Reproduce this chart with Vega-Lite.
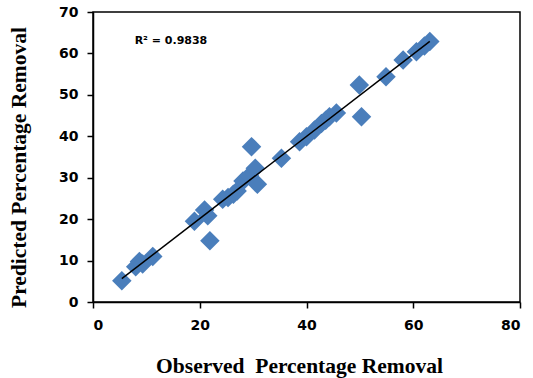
{
  "$schema": "https://vega.github.io/schema/vega-lite/v6.json",
  "autosize": "none",
  "width": 427,
  "height": 290,
  "padding": {"left": 93, "top": 12, "right": 13, "bottom": 76},
  "background": "white",
  "config": {
    "view": {"stroke": "#000", "strokeWidth": 1.5},
    "axis": {
      "grid": false,
      "domainColor": "#000",
      "domainWidth": 1.5,
      "tickColor": "#000",
      "tickWidth": 1.5,
      "tickSize": 6,
      "labelFont": "DejaVu Sans",
      "labelFontWeight": "bold",
      "labelFontSize": 14,
      "labelColor": "#000",
      "titleFont": "Liberation Serif",
      "titleFontWeight": "bold",
      "titleFontSize": 21.5,
      "titleColor": "#000"
    }
  },
  "data": {
    "values": [
      {"obs": 5.4, "pred": 5.1},
      {"obs": 8.0, "pred": 8.5},
      {"obs": 8.7, "pred": 9.8},
      {"obs": 9.3, "pred": 9.2},
      {"obs": 11.2, "pred": 11.0},
      {"obs": 19.0, "pred": 19.5},
      {"obs": 20.9, "pred": 22.2},
      {"obs": 21.5, "pred": 20.8},
      {"obs": 21.9, "pred": 14.8},
      {"obs": 24.3, "pred": 24.8},
      {"obs": 25.3, "pred": 25.2},
      {"obs": 26.3, "pred": 26.0},
      {"obs": 27.0, "pred": 26.8},
      {"obs": 28.1, "pred": 29.2},
      {"obs": 29.7, "pred": 37.5},
      {"obs": 29.3, "pred": 30.5},
      {"obs": 30.4, "pred": 32.3},
      {"obs": 30.8, "pred": 28.4},
      {"obs": 35.3, "pred": 34.7},
      {"obs": 38.7, "pred": 38.7},
      {"obs": 40.0, "pred": 39.9},
      {"obs": 41.5, "pred": 41.5},
      {"obs": 42.8, "pred": 43.1},
      {"obs": 43.6, "pred": 43.9},
      {"obs": 44.3, "pred": 44.7},
      {"obs": 45.6, "pred": 45.6},
      {"obs": 49.9, "pred": 52.4},
      {"obs": 50.3, "pred": 44.7},
      {"obs": 54.9, "pred": 54.4},
      {"obs": 58.1, "pred": 58.4},
      {"obs": 60.6, "pred": 60.4},
      {"obs": 62.1, "pred": 61.8},
      {"obs": 63.1, "pred": 62.9}
    ]
  },
  "encoding": {
    "x": {
      "field": "obs", "type": "quantitative",
      "scale": {"domain": [0, 80], "nice": false, "zero": false},
      "axis": {"values": [0, 20, 40, 60, 80], "labelPadding": 10, "title": "Observed\u00a0 Percentage Removal", "titleBaseline": "alphabetic", "titleY": 70, "titleX": 206}
    },
    "y": {
      "field": "pred", "type": "quantitative",
      "scale": {"domain": [0, 70], "nice": false, "zero": false},
      "axis": {"values": [0, 10, 20, 30, 40, 50, 60, 70], "labelPadding": 9, "title": "Predicted Percentage Removal", "titleBaseline": "middle", "titleAlign": "center", "titleX": -74, "titleY": 155}
    }
  },
  "layer": [
    {
      "mark": {"type": "point", "shape": "diamond", "filled": true, "size": 380, "color": "#4a7ebb", "opacity": 1}
    },
    {
      "transform": [{"regression": "pred", "on": "obs"}],
      "mark": {"type": "line", "color": "#000", "strokeWidth": 1.5},
      "encoding": {}
    },
    {
      "data": {"values": [{"obs": 7.8, "pred": 63.0, "label": "R² = 0.9838"}]},
      "mark": {"type": "text", "align": "left", "baseline": "middle", "font": "DejaVu Sans", "fontWeight": "bold", "fontSize": 11, "color": "#000"},
      "encoding": {"text": {"field": "label"}}
    }
  ]
}
